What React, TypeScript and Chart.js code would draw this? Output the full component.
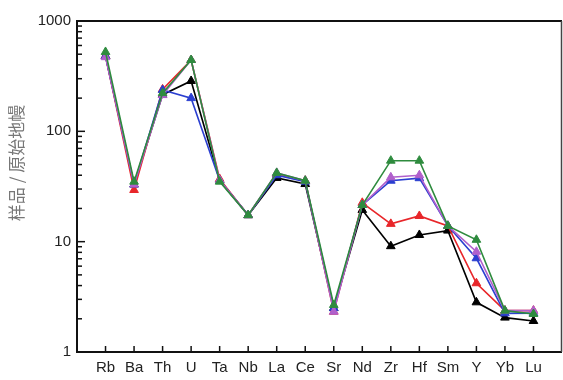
import React, { useEffect, useRef } from "react";
import { Chart, registerables } from "chart.js";

Chart.register(...registerables);

const elements = ["Rb", "Ba", "Th", "U", "Ta", "Nb", "La", "Ce", "Sr", "Nd", "Zr", "Hf", "Sm", "Y", "Yb", "Lu"];

const sampleBlack = [482, 33, 215, 286, 36, 17.4, 37.8, 33.3, 2.5, 19.4, 9.1, 11.5, 12.6, 2.82, 2.05, 1.91];
const sampleRed = [482, 29.4, 240, 443, 37, 17.4, 41, 35.7, 2.32, 22.5, 14.5, 17.1, 13.9, 4.2, 2.37, 2.37];
const sampleBlue = [482, 33, 237, 200, 36, 17.4, 40, 35, 2.5, 21.5, 35.7, 37.6, 13.9, 7.07, 2.24, 2.25];
const samplePurple = [470, 33, 213, 443, 36, 17.4, 42, 35.7, 2.32, 21.5, 38.3, 40, 13.9, 8.1, 2.37, 2.37];
const sampleGreen = [524, 35, 222, 443, 35, 17.4, 42, 35.7, 2.67, 21.5, 54.2, 54.2, 13.9, 10.4, 2.37, 2.21];

const seriesColors = ["#000000", "#e8262a", "#2b3fd0", "#b060cc", "#2e8b3e"];
const seriesValues = [sampleBlack, sampleRed, sampleBlue, samplePurple, sampleGreen];

const yTickValues = [1, 10, 100, 1000];
const yTitle = "样品 / 原始地幔";

const xLabels = ["", ...elements, ""];

export default function App() {
  const ref = useRef<HTMLCanvasElement | null>(null);

  useEffect(() => {
    if (!ref.current) return;
    document.body.style.margin = "0";
    const framePlugin = {
      id: "frame",
      afterDraw(chart: any) {
        const ctx = chart.ctx;
        const a = chart.chartArea;
        const xs = chart.scales.x;
        const ys = chart.scales.y;
        ctx.save();
        ctx.strokeStyle = "#111";
        ctx.lineWidth = 1.5;
        for (let d = 0; d < yTickValues.length; d++) {
          const base = yTickValues[d];
          const py = ys.getPixelForValue(base);
          ctx.beginPath();
          ctx.moveTo(a.left, py);
          ctx.lineTo(a.left + 8, py);
          ctx.stroke();
          if (d < yTickValues.length - 1) {
            for (let m = 2; m <= 9; m++) {
              const p = ys.getPixelForValue(base * m);
              ctx.beginPath();
              ctx.moveTo(a.left, p);
              ctx.lineTo(a.left + 5, p);
              ctx.stroke();
            }
          }
        }
        xLabels.forEach((lab, i) => {
          if (!lab) return;
          const px = xs.getPixelForValue(i);
          ctx.beginPath();
          ctx.moveTo(px, a.bottom);
          ctx.lineTo(px, a.bottom - 6);
          ctx.stroke();
        });
        ctx.lineWidth = 2;
        ctx.strokeStyle = "#111";
        ctx.beginPath();
        ctx.moveTo(a.right, a.top);
        ctx.lineTo(a.left, a.top);
        ctx.lineTo(a.left, a.bottom);
        ctx.lineTo(a.right, a.bottom);
        ctx.stroke();
        ctx.strokeStyle = "#444";
        ctx.lineWidth = 1.5;
        ctx.beginPath();
        ctx.moveTo(a.right - 0.5, a.top);
        ctx.lineTo(a.right - 0.5, a.bottom);
        ctx.stroke();
        ctx.translate(17, 163);
        ctx.rotate(-Math.PI / 2);
        ctx.fillStyle = "#777";
        ctx.font = '17px "Noto Sans CJK SC"';
        ctx.textAlign = "center";
        ctx.textBaseline = "middle";
        ctx.fillText(yTitle, 0, 0);
        ctx.restore();
      },
    };

    const chart = new Chart(ref.current, {
      type: "line",
      data: {
        labels: xLabels,
        datasets: seriesValues.map((vals, i) => ({
          data: [null, ...vals, null],
          borderColor: seriesColors[i],
          backgroundColor: seriesColors[i],
          pointStyle: "triangle",
          pointRadius: 5,
          pointBorderWidth: 1,
          borderWidth: 1.6,
          order: seriesValues.length - i,
          spanGaps: false,
        })),
      },
      options: {
        animation: false,
        responsive: false,
        maintainAspectRatio: false,
        devicePixelRatio: 1,
        layout: { autoPadding: false, padding: { top: 21, right: 1, left: 0, bottom: 0 } },
        plugins: { legend: { display: false }, tooltip: { enabled: false } },
        scales: {
          x: {
            type: "category",
            offset: false,
            grid: { display: false, drawTicks: true, tickLength: 7 },
            border: { display: false },
            ticks: {
              padding: 0,
              autoSkip: false,
              maxRotation: 0,
              color: "#222",
              font: { family: "Liberation Sans, Arial", size: 15 },
            },
            afterFit(scale: any) {
              scale.height = 28;
              scale.paddingLeft = 0;
              scale.paddingRight = 0;
            },
          },
          y: {
            type: "logarithmic",
            min: 1,
            max: 1000,
            grid: { display: false, drawTicks: false },
            border: { display: false },
            afterBuildTicks(scale: any) {
              scale.ticks = yTickValues.map((v) => ({ value: v }));
            },
            ticks: {
              padding: 6,
              autoSkip: false,
              color: "#222",
              font: { family: "Liberation Sans, Arial", size: 15 },
              callback: (v: any) => String(v),
            },
            afterFit(scale: any) {
              scale.width = 77;
              scale.paddingTop = 0;
              scale.paddingBottom = 0;
            },
          },
        },
      },
      plugins: [framePlugin],
    } as any);
    return () => chart.destroy();
  }, []);

  return (
    <div style={{ position: "fixed", left: 0, top: 0, width: 563, height: 380, overflow: "hidden", background: "#fff" }}>
      <canvas ref={ref} width={563} height={380} style={{ display: "block", width: 563, height: 380 }} />
    </div>
  );
}
